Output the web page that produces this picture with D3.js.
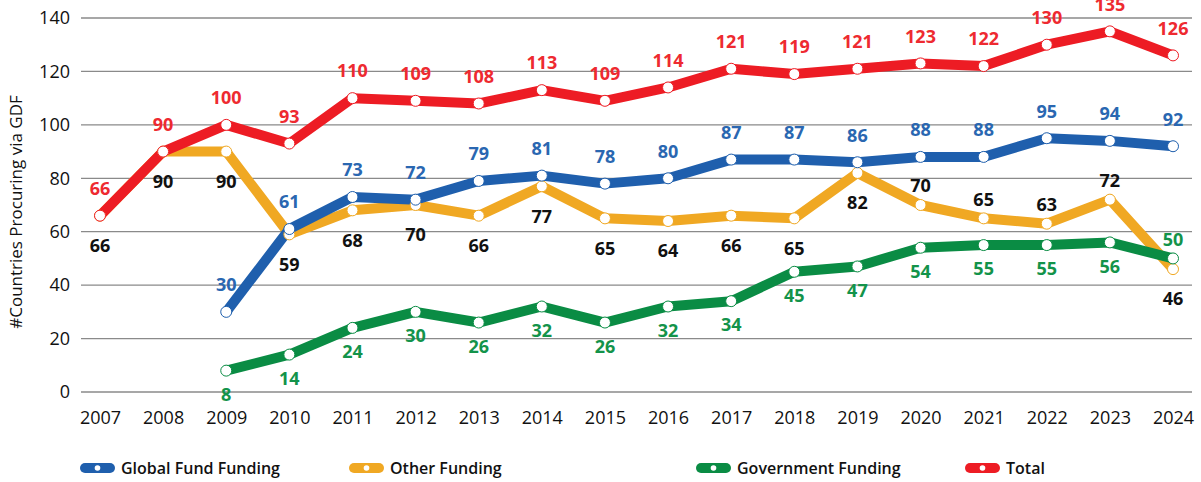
<!DOCTYPE html>
<html>
<head>
<meta charset="utf-8">
<script src="https://cdn.jsdelivr.net/npm/d3@7"></script>
<style>
  body { margin: 0; background: #fff; }
  svg { display: block; font-family: 'Open Sans', Lato, sans-serif; }
</style>
</head>
<body>
<svg id="chart" width="1201" height="482"></svg>
<script>
const years = [2007, 2008, 2009, 2010, 2011, 2012, 2013, 2014, 2015, 2016, 2017, 2018, 2019, 2020, 2021, 2022, 2023, 2024]
const yTicks = [0, 20, 40, 60, 80, 100, 120, 140]

// null = no value that year
const globalFund = [null, null, 30, 61, 73, 72, 79, 81, 78, 80, 87, 87, 86, 88, 88, 95, 94, 92]
const otherFunding = [66, 90, 90, 59, 68, 70, 66, 77, 65, 64, 66, 65, 82, 70, 65, 63, 72, 46]
const government = [null, null, 8, 14, 24, 30, 26, 32, 26, 32, 34, 45, 47, 54, 55, 55, 56, 50]
const total = [66, 90, 100, 93, 110, 109, 108, 113, 109, 114, 121, 119, 121, 123, 122, 130, 135, 126]

// which side of the point each label sits on
const otherAbove = [2020, 2021, 2022, 2023]
const govAbove = [2024]

const series = [
  { name: 'Other Funding', values: otherFunding, color: '#f0a823', labelColor: '#111',
    side: y => otherAbove.includes(y) ? 'up' : 'down', up: -19, down: 30 },
  { name: 'Global Fund Funding', values: globalFund, color: '#1f5fad', labelColor: '#2a67b1',
    side: () => 'up', up: -27, down: 30 },
  { name: 'Government Funding', values: government, color: '#0a8c44', labelColor: '#13934a',
    side: y => govAbove.includes(y) ? 'up' : 'down', up: -19, down: 24 },
  { name: 'Total', values: total, color: '#ed1c24', labelColor: '#ee2a30',
    side: () => 'up', up: -27, down: 30 }
]
const legendOrder = ['Global Fund Funding', 'Other Funding', 'Government Funding', 'Total']
const legendX = [80, 349, 696, 965]

const svg = d3.select('#chart')

const x = d3.scalePoint().domain(years).range([100, 1173])
const y = d3.scaleLinear().domain([0, 140]).range([392, 18])

// grid
svg.append('g')
  .selectAll('line')
  .data(yTicks)
  .enter()
  .append('line')
  .attr('x1', 81)
  .attr('x2', 1192)
  .attr('y1', d => y(d))
  .attr('y2', d => y(d))
  .attr('stroke', '#8a8a8a')
  .attr('stroke-width', 1.3)

// y axis labels
const yAxis = d3.axisLeft(y).tickValues(yTicks).tickSize(0).tickPadding(0)
svg.append('g')
  .attr('transform', 'translate(70,0)')
  .call(yAxis)
  .call(g => g.select('.domain').remove())
  .selectAll('text')
  .attr('font-size', 18)
  .attr('font-family', 'Open Sans, sans-serif')
  .attr('fill', '#111')

// x axis labels
const xAxis = d3.axisBottom(x).tickSize(0).tickPadding(0)
svg.append('g')
  .attr('transform', 'translate(0,411)')
  .call(xAxis)
  .call(g => g.select('.domain').remove())
  .selectAll('text')
  .attr('font-size', 18)
  .attr('font-family', 'Open Sans, sans-serif')
  .attr('fill', '#111')

svg.append('text')
  .attr('transform', 'translate(22,212) rotate(-90)')
  .attr('text-anchor', 'middle')
  .attr('font-size', 17)
  .attr('fill', '#111')
  .text('#Countries Procuring via GDF')

const line = d3.line()
  .defined(d => d.v !== null)
  .x(d => x(d.year))
  .y(d => y(d.v))

const pts = s => years.map((year, i) => ({ year, v: s.values[i] }))

// lines first, then markers on top
svg.append('g')
  .selectAll('path')
  .data(series)
  .enter()
  .append('path')
  .attr('d', s => line(pts(s)))
  .attr('fill', 'none')
  .attr('stroke', s => s.color)
  .attr('stroke-width', 10)
  .attr('stroke-linejoin', 'round')
  .attr('stroke-linecap', 'round')

series.forEach(s => {
  svg.append('g')
    .selectAll('circle')
    .data(pts(s).filter(d => d.v !== null))
    .enter()
    .append('circle')
    .attr('cx', d => x(d.year))
    .attr('cy', d => y(d.v))
    .attr('r', 5.5)
    .attr('fill', '#fff')
    .attr('stroke', s.color)
    .attr('stroke-width', 1)
})

// data labels
series.forEach(s => {
  svg.append('g')
    .selectAll('text')
    .data(pts(s).filter(d => d.v !== null))
    .enter()
    .append('text')
    .attr('x', d => x(d.year))
    .attr('y', d => y(d.v) + (s.side(d.year) === 'up' ? s.up : s.down))
    .attr('dy', '0.35em')
    .attr('text-anchor', 'middle')
    .attr('font-size', 18)
    .attr('font-weight', 'bold')
    .attr('fill', s.labelColor)
    .text(d => d.v)
})

// legend
const legend = svg.append('g')
legendOrder.forEach((name, i) => {
  const s = series.find(d => d.name === name)
  const g = legend.append('g').attr('transform', `translate(${legendX[i]},468)`)
  g.append('rect')
    .attr('x', 0)
    .attr('y', -5)
    .attr('width', 35)
    .attr('height', 10)
    .attr('rx', 5)
    .attr('fill', s.color)
  g.append('circle')
    .attr('cx', 17.5)
    .attr('cy', 0)
    .attr('r', 2.8)
    .attr('fill', '#fff')
  g.append('text')
    .attr('x', 41)
    .attr('y', 0)
    .attr('dy', '0.35em')
    .attr('font-size', 16)
    .attr('font-weight', 600)
    .attr('fill', '#111')
    .text(name)
})
</script>
</body>
</html>
